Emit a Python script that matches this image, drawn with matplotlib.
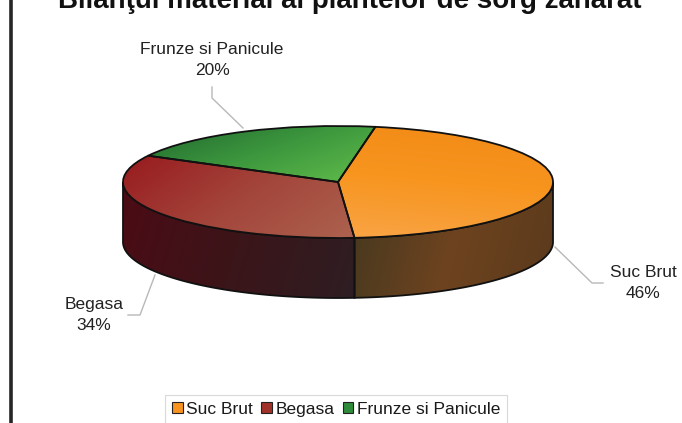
import numpy as np
import matplotlib
matplotlib.use('Agg')
import matplotlib.pyplot as plt
from matplotlib.patches import Wedge, Polygon, Rectangle
from matplotlib.transforms import Affine2D
from matplotlib.colors import LinearSegmentedColormap

plt.rcParams['font.family'] = ['Liberation Sans', 'DejaVu Sans']

# data
title = 'Bilanţul material al plantelor de sorg zaharat'
labels = ['Suc Brut', 'Begasa', 'Frunze si Panicule']
shares = [46, 34, 20]

# colours (top face gradient, side gradient, legend)
top_cols = [['#f28a16', '#f7951f', '#f9a445'],
            ['#981a1e', '#a3443a', '#ac624f'],
            ['#21682f', '#3d983e', '#62bd4b']]
side_cols = [['#45381f', '#6e431f', '#5a3a1c'],
             ['#4c0b15', '#3b1519', '#2e1e23'],
             ['#1d4a22', '#1d4a22', '#1d4a22']]
legend_cols = ['#f7931e', '#a0322a', '#2e8b3a']

# layout of the 3d pie, in pixels
W, H = 682, 423
cx, cy = 338, 182
a, b = 215, 56
depth = 60
start = 80

fig = plt.figure(figsize=(W / 100, H / 100), dpi=100)
ax = fig.add_axes([0, 0, 1, 1])
ax.set_xlim(0, W)
ax.set_ylim(H, 0)
ax.axis('off')

ell = Affine2D().scale(a, -b).translate(cx, cy) + ax.transData


def gradient_fill(patch, cols, direction):
    # gradient spread over the patch's own bounding box
    ext = patch.get_path().transformed(patch.get_transform()).get_extents()
    (x0, y0), (x1, y1) = ax.transData.inverted().transform([[ext.x0, ext.y0], [ext.x1, ext.y1]])
    X, Y = np.meshgrid(np.linspace(0, 1, 200), np.linspace(0, 1, 120))
    dx, dy = direction
    g = X * dx + Y * dy
    g = (g - g.min()) / (g.max() - g.min())
    cmap = LinearSegmentedColormap.from_list('g', cols)
    top, bot = min(y0, y1), max(y0, y1)
    im = ax.imshow(g, cmap=cmap, extent=[x0, x1, bot, top], origin='upper',
                   aspect='auto', interpolation='bilinear', zorder=patch.get_zorder())
    im.set_clip_path(patch)


# angles of each slice, clockwise from start
angles = []
t = start
for s in shares:
    t1 = t - 360 * s / 100
    angles.append((t1, t))
    t = t1


def arc(t1, t2, n=120):
    tt = np.radians(np.linspace(t1, t2, n))
    return cx + a * np.cos(tt), cy - b * np.sin(tt)


# side walls (front half of the cylinder)
for i, (t1, t2) in enumerate(angles):
    lo, hi = t1 % 360, t1 % 360 + (t2 - t1)
    for off in (0, 360, -360):
        s1 = max(lo + off, 180)
        s2 = min(hi + off, 360)
        if s2 > s1:
            xs, ys = arc(s1, s2)
            pts = np.column_stack([np.r_[xs, xs[::-1]], np.r_[ys, ys[::-1] + depth]])
            poly = Polygon(pts, closed=True, facecolor='none', edgecolor='none', zorder=2)
            ax.add_patch(poly)
            gradient_fill(poly, side_cols[i], (1, 0.15))
            ax.add_patch(Polygon(pts, closed=True, facecolor='none',
                                 edgecolor='#111111', lw=1.3, zorder=3))

# top faces
top_dirs = [(-0.2, 1), (1, 0.5), (1, 0.7)]
for i, (t1, t2) in enumerate(angles):
    w = Wedge((0, 0), 1, t1, t2, transform=ell, facecolor='none', edgecolor='none', zorder=4)
    ax.add_patch(w)
    gradient_fill(w, top_cols[i], top_dirs[i])
    ax.add_patch(Wedge((0, 0), 1, t1, t2, transform=ell, facecolor='none',
                       edgecolor='#111111', lw=1.3, zorder=5))

# data labels with leader lines
lab_pos = [(643, 283), (94, 315), (212, 60)]
leaders = [([555, 592, 603], [247, 283, 283]),
           ([155, 140, 128], [275, 315, 315]),
           ([243, 212, 212], [128, 98, 87])]
for i, lab in enumerate(labels):
    lx, ly = leaders[i]
    ax.plot(lx, ly, color='#b8b8b8', lw=1.0, zorder=1)
    ax.text(lab_pos[i][0], lab_pos[i][1], f'{lab}\n{shares[i]}%', ha='center', va='center',
            fontsize=12.5, color='#222222', linespacing=1.45, zorder=6)

# title (cut by the top of the image, as in the source)
ax.text(350, 8, title, ha='center', va='baseline', fontsize=20, weight='bold', color='#111111')

# left border of the chart area
ax.plot([11, 11], [0, H], color='#262626', lw=2.6, zorder=6)

# legend
handles = [Rectangle((0, 0), 1, 1, facecolor=c, edgecolor='#222222', lw=0.8) for c in legend_cols]
leg = fig.legend(handles, labels, loc='upper center', bbox_to_anchor=(0.493, 1 - 395 / H),
                 ncol=3, fontsize=12.5, frameon=True, fancybox=False, edgecolor='#d0d0d0',
                 handlelength=0.6, handleheight=0.6, handletextpad=0.2, columnspacing=0.5,
                 borderpad=0.4, borderaxespad=0)
leg.get_frame().set_linewidth(0.8)
for txt in leg.get_texts():
    txt.set_color('#1a1a1a')

ax.set_xlim(0, W)
ax.set_ylim(H, 0)
fig.savefig('out.png', dpi=100)
